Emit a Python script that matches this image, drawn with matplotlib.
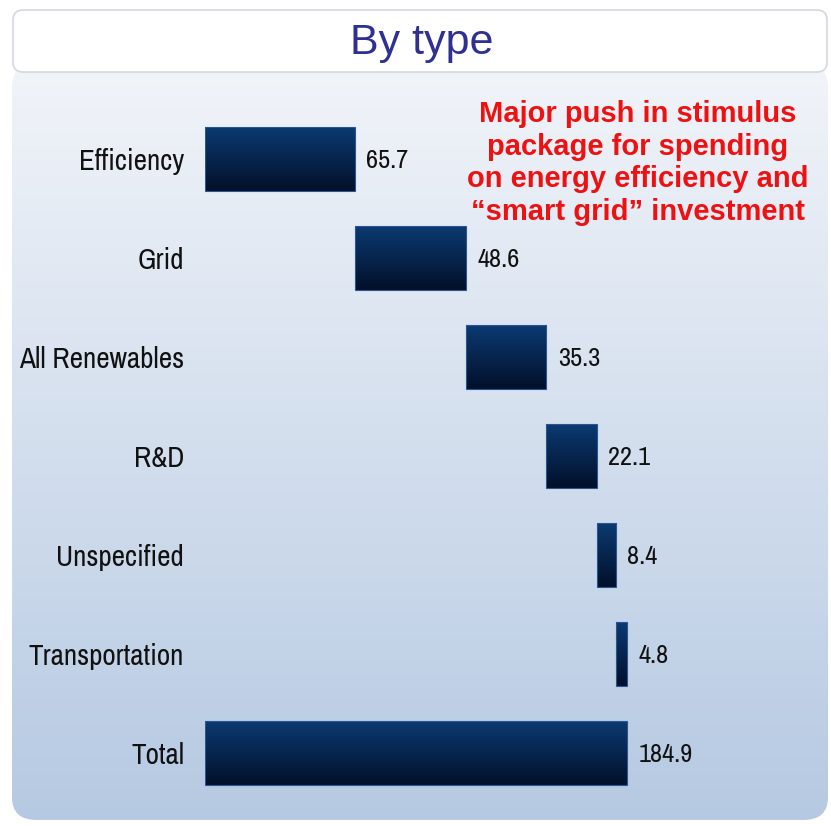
import numpy as np
import matplotlib.pyplot as plt
from matplotlib.patches import FancyBboxPatch
from matplotlib.colors import LinearSegmentedColormap

categories = ["Efficiency", "Grid", "All Renewables", "R&D", "Unspecified",
              "Transportation", "Total"]
values = [65.7, 48.6, 35.3, 22.1, 8.4, 4.8, 184.9]
value_labels = ["65.7", "48.6", "35.3", "22.1", "8.4", "4.8", "184.9"]
note = "Major push in stimulus\npackage for spending\non energy efficiency and\n\u201csmart grid\u201d investment"

W, H = 831, 826
fig = plt.figure(figsize=(W / 100, H / 100), dpi=100)
fig.patch.set_facecolor("white")

narrow = ["Archivo Narrow", "DejaVu Sans"]
sans = ["Liberation Sans", "DejaVu Sans"]

# background panel with vertical gradient
bg = fig.add_axes([12 / W, 0, 816 / W, (H - 70) / H])
bg.set_xlim(0, 1)
bg.set_ylim(0, 1)
bg.axis("off")
grad = np.linspace(0, 1, 256).reshape(-1, 1)
bg_cmap = LinearSegmentedColormap.from_list("bg", ["#b5c9e2", "#f1f4f9"])
im = bg.imshow(grad, extent=[0, 1, 0, 1], aspect="auto", cmap=bg_cmap,
               origin="lower", zorder=0)
panel = FancyBboxPatch((0.0, 0.008), 1.0, 1.0, boxstyle="round,pad=0,rounding_size=0.03",
                       transform=bg.transAxes, facecolor="none", edgecolor="none")
bg.add_patch(panel)
im.set_clip_path(panel)

# title box
tb = fig.add_axes([0, 0, 1, 1], facecolor="none")
tb.set_xlim(0, W)
tb.set_ylim(H, 0)
tb.axis("off")
tb.add_patch(FancyBboxPatch((13, 10), 814, 62, boxstyle="round,pad=0,rounding_size=10",
                            facecolor="white", edgecolor="#d4d8de", linewidth=1.2))
tb.text(422, 43, "By type", ha="center", va="center", fontsize=31,
        color="#2e3192", family=sans)

# main waterfall axes
ax = fig.add_axes([205 / W, (H - 802.5) / H, (828 - 205) / W, 693 / H], facecolor="none")
scale = 422 / 184.9

lefts = []
run = 0.0
for v in values[:-1]:
    lefts.append(run)
    run += v
lefts.append(0.0)

bar_cmap = LinearSegmentedColormap.from_list("bar", ["#021029", "#0b3a72"])
bh = 0.64
for i, (l, v) in enumerate(zip(lefts, values)):
    ax.imshow(grad, extent=[l, l + v, i + bh / 2, i - bh / 2], aspect="auto",
              cmap=bar_cmap, origin="lower", zorder=2)
    ax.barh(i, v, left=l, height=bh, facecolor="none", edgecolor="#2a5590",
            linewidth=0.8, zorder=3)
    ax.text(l + v + 5, i + 0.02, value_labels[i], ha="left", va="center", fontsize=19,
            color="#111111", family=narrow)

ax.set_xlim(0, (828 - 205) / scale)
ax.set_ylim(len(categories) - 0.5, -0.5)
ax.set_yticks(range(len(categories)))
ax.set_yticklabels(categories, fontsize=21, family=narrow, color="#111111")
ax.tick_params(axis="y", length=0, pad=15)
ax.set_xticks([])
for s in ax.spines.values():
    s.set_visible(False)

fig.text(638 / W, 1 - 163 / H, note, ha="center", va="center", fontsize=21,
         fontweight="bold", color="#ee1111", family=sans, linespacing=1.2)

fig.savefig("out.png", dpi=100)
